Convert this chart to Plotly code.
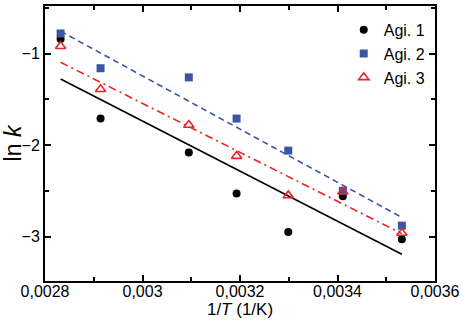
import plotly.graph_objects as go

inv_T = [0.002832, 0.002914, 0.003095, 0.003193, 0.003299, 0.003411, 0.003532]
agi1 = [-0.84, -1.71, -2.08, -2.53, -2.95, -2.56, -3.03]
agi2 = [-0.78, -1.16, -1.26, -1.71, -2.06, -2.50, -2.88]
agi3 = [-0.92, -1.39, -1.78, -2.12, -2.55, -2.51, -2.96]

fit_x = [0.002832, 0.003532]
fit1 = [-1.277, -3.193]
fit2 = [-0.756, -2.79]
fit3 = [-1.095, -2.967]

BLACK = "#000000"
BLUE = "#3A55A6"
RED = "#E8232A"

fig = go.Figure()
fig.add_trace(go.Scatter(x=fit_x, y=fit1, mode="lines", line=dict(color=BLACK, width=1.6), showlegend=False))
fig.add_trace(go.Scatter(x=fit_x, y=fit2, mode="lines", line=dict(color=BLUE, width=1.6, dash="6px,4px"), showlegend=False))
fig.add_trace(go.Scatter(x=fit_x, y=fit3, mode="lines", line=dict(color=RED, width=1.6, dash="8px,4px,2px,4px"), showlegend=False))

fig.add_trace(go.Scatter(x=inv_T, y=agi1, mode="markers", name="Agi. 1",
                         marker=dict(symbol="circle", size=8, color=BLACK)))
fig.add_trace(go.Scatter(x=inv_T, y=agi2, mode="markers", name="Agi. 2",
                         marker=dict(symbol="square", size=8, color=BLUE)))
fig.add_trace(go.Scatter(x=inv_T, y=agi3, mode="markers", name="Agi. 3",
                         marker=dict(symbol="triangle-up-open", size=9, color=RED, line=dict(width=1.6, color=RED))))

axis_common = dict(showline=True, linecolor="black", linewidth=2, mirror="ticks",
                   ticks="inside", ticklen=6, tickwidth=1.5, tickcolor="black",
                   showgrid=False, zeroline=False, automargin=False,
                   tickfont=dict(size=16, color="black"))

fig.update_xaxes(range=[0.0028, 0.0036], tick0=0.0028, dtick=0.0002, tickformat=".4~f",
                 ticklabelstandoff=-5,
                 minor=dict(tick0=0.0028, dtick=0.0001, ticks="inside", ticklen=4, tickwidth=1.5, tickcolor="black"),
                 title=dict(text="1/<i>T</i> (1/K)", font=dict(size=17, color="black"), standoff=2),
                 **axis_common)
fig.update_yaxes(range=[-3.485, -0.48], tick0=-3, dtick=1,
                 minor=dict(tick0=-3, dtick=0.5, ticks="inside", ticklen=4, tickwidth=1.5, tickcolor="black"),
                 title=dict(text="ln <i>k</i>", font=dict(size=23, color="black"), standoff=6),
                 **axis_common)

fig.update_layout(
    width=462, height=321,
    margin=dict(l=45, r=27, t=6, b=40),
    separators=",.",
    font=dict(family="Liberation Sans, Arial, sans-serif", color="black"),
    plot_bgcolor="white", paper_bgcolor="white",
    legend=dict(x=0.766, y=0.975, xanchor="left", yanchor="top",
                font=dict(size=16, color="black"), bgcolor="rgba(0,0,0,0)",
                itemwidth=30, tracegroupgap=0),
)

fig.write_html("out.html", config={"displayModeBar": False},
               post_script="document.body.style.margin='0';")
